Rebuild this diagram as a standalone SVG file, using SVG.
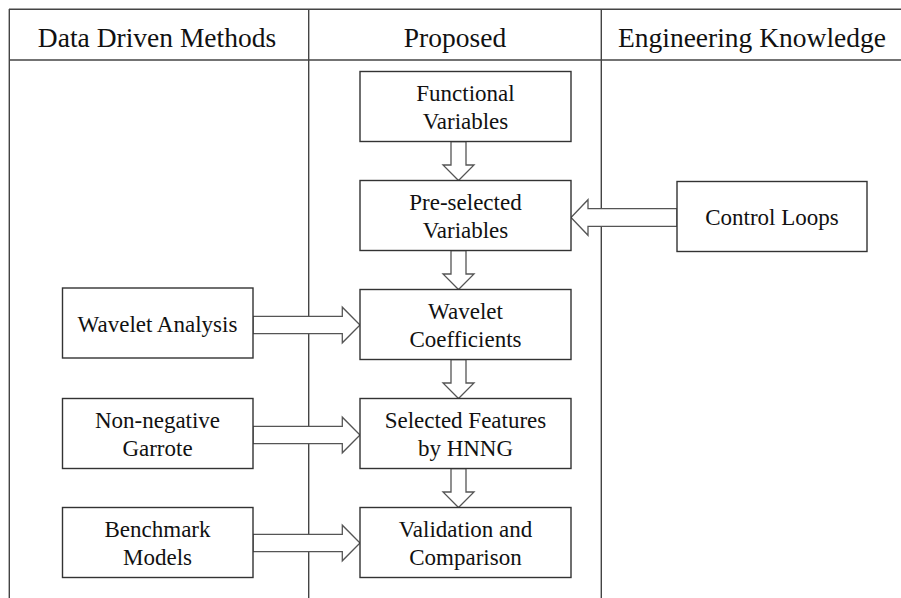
<svg xmlns="http://www.w3.org/2000/svg" width="901" height="598" viewBox="0 0 901 598">
<style>
.lane{stroke:#444;stroke-width:1.4;fill:none}
.box{fill:#fff;stroke:#333;stroke-width:1.4}
.arr{fill:#fff;stroke:#555;stroke-width:1.3;stroke-linejoin:miter}
text{font-family:'Liberation Serif','Times New Roman',Tinos,'DejaVu Serif',serif;fill:#111;text-anchor:middle}
.hd{font-size:27.5px}
.tx{font-size:23px}
</style>
<g id="lanes">
<line class="lane" x1="9" y1="9.3" x2="901" y2="9.3"/>
<line class="lane" x1="9" y1="60" x2="901" y2="60"/>
<line class="lane" x1="9.3" y1="9" x2="9.3" y2="598"/>
<line class="lane" x1="308.7" y1="9" x2="308.7" y2="598"/>
<line class="lane" x1="601.3" y1="9" x2="601.3" y2="598"/>
<text class="hd" x="157" y="47" font-family="Liberation Serif">Data Driven Methods</text>
<text class="hd" x="455" y="47" font-family="Liberation Serif">Proposed</text>
<text class="hd" x="752" y="47" font-family="Liberation Serif">Engineering Knowledge</text>
</g>
<g id="connectors">
<polygon class="arr" points="451,141.5 466,141.5 466,165 474,165 458.5,180.5 443,165 451,165"/>
<polygon class="arr" points="451,250.5 466,250.5 466,274 474,274 458.5,289.5 443,274 451,274"/>
<polygon class="arr" points="451,359.5 466,359.5 466,383 474,383 458.5,398.5 443,383 451,383"/>
<polygon class="arr" points="451,468.5 466,468.5 466,492 474,492 458.5,507.5 443,492 451,492"/>
<polygon class="arr" points="677,208.7 588,208.7 588,199.7 571,217.5 588,235.3 588,226.3 677,226.3"/>
<polygon class="arr" points="253,316.3 342.3,316.3 342.3,307.2 360,325 342.3,342.8 342.3,333.7 253,333.7"/>
<polygon class="arr" points="253,426.3 342.3,426.3 342.3,417.2 360,435 342.3,452.8 342.3,443.7 253,443.7"/>
<polygon class="arr" points="253,534.3 342.3,534.3 342.3,525.2 360,543 342.3,560.8 342.3,551.7 253,551.7"/>
</g>
<g id="functional-variables">
<rect class="box" x="360" y="71.5" width="211" height="70"/>
<text class="tx" x="465.5" y="100.5">Functional</text>
<text class="tx" x="465.5" y="128.5">Variables</text>
</g>
<g id="pre-selected-variables">
<rect class="box" x="360" y="180.5" width="211" height="70"/>
<text class="tx" x="465.5" y="209.5">Pre-selected</text>
<text class="tx" x="465.5" y="237.5">Variables</text>
</g>
<g id="wavelet-coefficients">
<rect class="box" x="360" y="289.5" width="211" height="70"/>
<text class="tx" x="465.5" y="318.5">Wavelet</text>
<text class="tx" x="465.5" y="346.5">Coefficients</text>
</g>
<g id="selected-features">
<rect class="box" x="360" y="398.5" width="211" height="70"/>
<text class="tx" x="465.5" y="427.5">Selected Features</text>
<text class="tx" x="465.5" y="455.5">by HNNG</text>
</g>
<g id="validation-comparison">
<rect class="box" x="360" y="507.5" width="211" height="70"/>
<text class="tx" x="465.5" y="536.5">Validation and</text>
<text class="tx" x="465.5" y="564.5">Comparison</text>
</g>
<g id="control-loops">
<rect class="box" x="677" y="181.5" width="190" height="70"/>
<text class="tx" x="772" y="225">Control Loops</text>
</g>
<g id="wavelet-analysis">
<rect class="box" x="62.5" y="288" width="190.5" height="70"/>
<text class="tx" x="157.5" y="331.5">Wavelet Analysis</text>
</g>
<g id="non-negative-garrote">
<rect class="box" x="62.5" y="398.5" width="190.5" height="70"/>
<text class="tx" x="157.5" y="427.5">Non-negative</text>
<text class="tx" x="157.5" y="455.5">Garrote</text>
</g>
<g id="benchmark-models">
<rect class="box" x="62.5" y="507.5" width="190.5" height="70"/>
<text class="tx" x="157.5" y="536.5">Benchmark</text>
<text class="tx" x="157.5" y="564.5">Models</text>
</g>
</svg>
